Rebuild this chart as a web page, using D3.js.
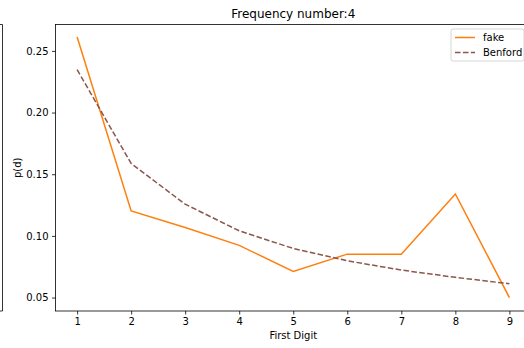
<!DOCTYPE html>
<html>
<head>
<meta charset="utf-8">
<script src="https://cdn.jsdelivr.net/npm/d3@7"></script>
<style>
  html, body { margin: 0; padding: 0; background: #fff; }
  svg { display: block; }
  text { font-family: "DejaVu Sans", sans-serif; fill: #000; }
</style>
</head>
<body>
<svg id="chart" width="524" height="348"></svg>
<script>
// First-digit frequencies for the observed sample and the Benford reference
const digits = [1, 2, 3, 4, 5, 6, 7, 8, 9];
const fake = [0.2612, 0.1203, 0.1068, 0.0923, 0.0712, 0.0852, 0.0852, 0.1340, 0.0500];
const benford = [0.2348, 0.1587, 0.1257, 0.1041, 0.0898, 0.0798, 0.0723, 0.0664, 0.0612];
const yTicks = [0.05, 0.10, 0.15, 0.20, 0.25];
const title = "Frequency number:4";

const svg = d3.select("#chart");
const plotL = 55.5, plotR = 531, plotT = 24.5, plotB = 311;

const x = d3.scaleLinear().domain([0.6, 9.4]).range([plotL, plotR]);
const y = d3.scaleLinear().domain([0.0391, 0.2714]).range([plotB, plotT]);

// Neighbouring panel's right edge
svg.append("path")
  .attr("d", `M-5,${plotT}H2.5V${plotB}H-5`)
  .attr("fill", "none").attr("stroke", "#000").attr("stroke-width", 0.8);

// Axes
const xAxis = d3.axisBottom(x).tickValues(digits).tickFormat(d3.format("d"))
  .tickSize(3.5).tickPadding(3.5);
const yAxis = d3.axisLeft(y).tickValues(yTicks).tickFormat(d3.format(".2f"))
  .tickSize(3.5).tickPadding(3.5);

const gx = svg.append("g").attr("transform", `translate(0,${plotB})`).call(xAxis);
const gy = svg.append("g").attr("transform", `translate(${plotL},0)`).call(yAxis);
[gx, gy].forEach(g => {
  g.select(".domain").remove();
  g.selectAll(".tick line").attr("stroke", "#000").attr("stroke-width", 0.8);
  g.selectAll(".tick text").attr("font-size", 10).attr("font-family", "DejaVu Sans").attr("fill", "#000");
});

// Frame
svg.append("rect")
  .attr("x", plotL).attr("y", plotT)
  .attr("width", plotR - plotL).attr("height", plotB - plotT)
  .attr("fill", "none").attr("stroke", "#000").attr("stroke-width", 0.8);

// Series
const line = d3.line().x((d, i) => x(digits[i])).y(d => y(d));
svg.append("path").datum(fake)
  .attr("d", line).attr("fill", "none")
  .attr("stroke", "#ff7f0e").attr("stroke-width", 1.5);
svg.append("path").datum(benford)
  .attr("d", line).attr("fill", "none")
  .attr("stroke", "#8c564b").attr("stroke-width", 1.5)
  .attr("stroke-dasharray", "5.55,2.4");

// Title and axis labels
svg.append("text").attr("x", (plotL + plotR) / 2).attr("y", 18)
  .attr("text-anchor", "middle").attr("font-size", 12).text(title);
svg.append("text").attr("x", (plotL + plotR) / 2).attr("y", 339)
  .attr("text-anchor", "middle").attr("font-size", 10).text("First Digit");
svg.append("text")
  .attr("transform", `translate(21,${(plotT + plotB) / 2}) rotate(-90)`)
  .attr("text-anchor", "middle").attr("font-size", 10).text("p(d)");

// Legend
const lg = svg.append("g").attr("transform", "translate(451,29)");
lg.append("rect").attr("x", 0).attr("y", 0).attr("width", 73).attr("height", 32)
  .attr("rx", 2).attr("fill", "#fff").attr("fill-opacity", 0.8)
  .attr("stroke", "#cccccc").attr("stroke-width", 0.8);
const entries = [
  { name: "fake", color: "#ff7f0e", dash: null },
  { name: "Benford", color: "#8c564b", dash: "5.55,2.4" }
];
entries.forEach((e, i) => {
  const cy = 8.5 + i * 15;
  lg.append("line").attr("x1", 4).attr("x2", 24).attr("y1", cy).attr("y2", cy)
    .attr("stroke", e.color).attr("stroke-width", 1.5)
    .attr("stroke-dasharray", e.dash);
  lg.append("text").attr("x", 32).attr("y", cy + 3.5).attr("font-size", 10).text(e.name);
});
</script>
</body>
</html>
